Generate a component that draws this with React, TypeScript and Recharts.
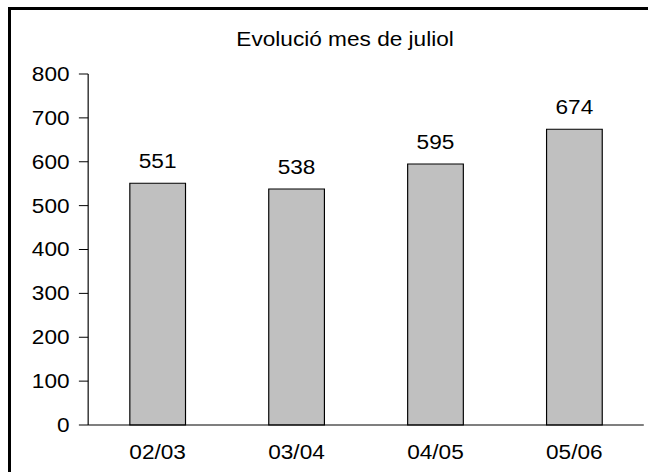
import { BarChart, Bar, XAxis, YAxis, LabelList } from 'recharts'

// values
const seasons = ['02/03', '03/04', '04/05', '05/06']
const julyValues = [551, 538, 595, 674]
const yTicks = [0, 100, 200, 300, 400, 500, 600, 700, 800]
const boundaryTicks = [0, 1, 2, 3, 4]

const data = seasons.map((season, i) => ({ season, value: julyValues[i] }))

// the source picture is a bit stretched horizontally, so draw narrower and scale
const STRETCH = 1.16
const WIDTH = Math.round(648 / STRETCH)
const HEIGHT = 472
const FONT = '"Liberation Sans", Arial, sans-serif'
const FONT_SIZE = 19.5

export default function App() {
	return (
		<div style={{ position: 'absolute', left: 0, top: 0, width: 648, height: 472, overflow: 'hidden', background: '#fff' }}>
			{/* outer frame, only left/top edge are inside the picture */}
			<div
				style={{
					position: 'absolute',
					left: 8,
					top: 7,
					width: 700,
					height: 500,
					borderLeft: '3px solid #000',
					borderTop: '3px solid #000',
				}}
			/>
			<div
				style={{
					position: 'absolute',
					left: 0,
					top: 0,
					width: WIDTH,
					height: HEIGHT,
					transform: `scaleX(${STRETCH})`,
					transformOrigin: '0 0',
					fontFamily: FONT,
				}}
			>
				<div
					style={{
						position: 'absolute',
						left: 0,
						top: 30,
						width: 595,
						textAlign: 'center',
						fontSize: FONT_SIZE,
						lineHeight: `${FONT_SIZE}px`,
						color: '#000',
					}}
				>
					Evolució mes de juliol
				</div>
				<BarChart
					width={WIDTH}
					height={HEIGHT}
					data={data}
					margin={{ top: 74, right: 4, bottom: 0, left: 6 }}
					barCategoryGap="30%"
				>
					<XAxis
						xAxisId="bounds"
						type="number"
						domain={[0, 4]}
						ticks={boundaryTicks}
						allowDataOverflow
						interval={0}
						height={1}
						tick={false}
						tickSize={6}
						axisLine={{ stroke: '#000' }}
						tickLine={{ stroke: '#000' }}
					/>
					<XAxis
						xAxisId="cat"
						dataKey="season"
						height={46}
						axisLine={false}
						tickLine={false}
						tickSize={0}
						tickMargin={19}
						interval={0}
						tick={{ fill: '#000', fontSize: FONT_SIZE, fontFamily: FONT }}
					/>
					<YAxis
						domain={[0, 800]}
						ticks={yTicks}
						interval={0}
						width={70}
						tickSize={8}
						tickMargin={8}
						axisLine={{ stroke: '#000' }}
						tickLine={{ stroke: '#000' }}
						tick={{ fill: '#000', fontSize: FONT_SIZE, fontFamily: FONT }}
					/>
					<Bar
						xAxisId="cat"
						dataKey="value"
						fill="#c0c0c0"
						stroke="#000"
						strokeWidth={1}
						isAnimationActive={false}
					>
						<LabelList
							dataKey="value"
							position="top"
							offset={15}
							fill="#000"
							fontSize={FONT_SIZE}
							fontFamily={FONT}
						/>
					</Bar>
				</BarChart>
			</div>
		</div>
	)
}
